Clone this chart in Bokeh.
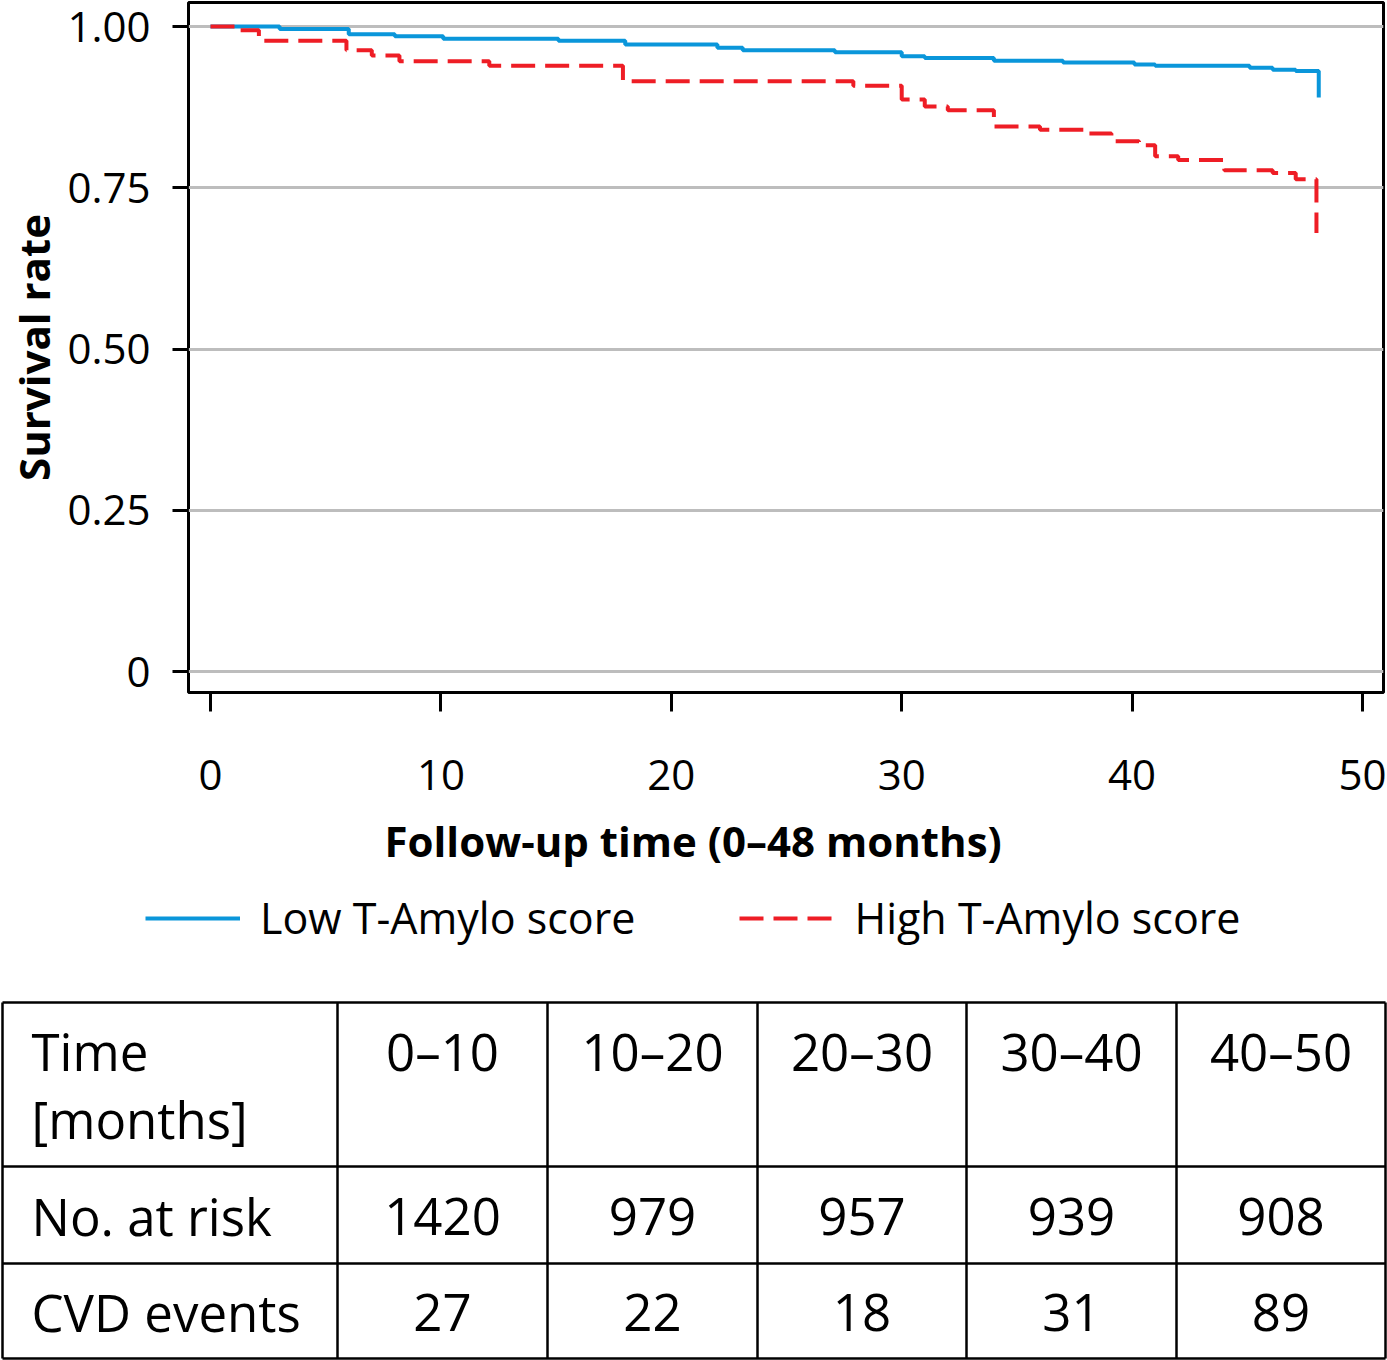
from bokeh.plotting import figure
from bokeh.models import Range1d, FixedTicker, Legend, LegendItem, Title
from bokeh.core.properties import value
from bokeh.embed import file_html
from bokeh.resources import INLINE

# ---------------- data ----------------
low_t = [0, 3.0, 6.0, 8.0, 10.1, 15.1, 18.0, 22.0, 23.1, 27.1, 30.0, 31.0, 34.0,
         37.0, 40.1, 41.0, 45.1, 46.1, 47.1, 48.1]
low_s = [1.0, 0.996, 0.988, 0.985, 0.981, 0.978, 0.972, 0.967, 0.963, 0.960, 0.954,
         0.951, 0.947, 0.944, 0.941, 0.939, 0.936, 0.933, 0.931, 0.890]

high_t = [0, 1.2, 2.1, 5.9, 7.0, 8.2, 12.1, 17.9, 27.9, 30.0, 31.0, 32.0, 34.0,
          36.0, 38.1, 39.1, 40.3, 41.0, 42.0, 44.0, 46.1, 47.1, 48.0]
high_s = [1.0, 0.994, 0.978, 0.963, 0.955, 0.946, 0.939, 0.915, 0.908, 0.887, 0.876,
          0.870, 0.845, 0.840, 0.834, 0.822, 0.816, 0.799, 0.793, 0.777, 0.773, 0.763, 0.680]

x_ticks = [0, 10, 20, 30, 40, 50]
y_ticks = [0, 0.25, 0.5, 0.75, 1.0]
y_tick_labels = ["0", "0.25", "0.50", "0.75", "1.00"]

series_names = ["Low T-Amylo score", "High T-Amylo score"]

time_labels = ["0–10", "10–20", "20–30", "30–40", "40–50"]
at_risk = [1420, 979, 957, 939, 908]
cvd_events = [27, 22, 18, 31, 89]
row_labels = ["No. at risk", "CVD events"]

FONT = "Open Sans"
BLUE = "#0a96da"
RED = "#ee1d25"
W = 1387

# ---------------- survival plot ----------------
p = figure(width=W, height=885, output_backend="svg", toolbar_location=None,
           x_range=Range1d(-0.955, 50.91), y_range=Range1d(-0.0325, 1.0372),
           min_border_left=188, min_border_right=4, min_border_top=2,
           min_border_bottom=192)
p.outline_line_color = "black"
p.outline_line_width = 3
p.background_fill_color = "white"
p.border_fill_color = "white"

p.xgrid.visible = False
p.ygrid.ticker = FixedTicker(ticks=y_ticks)
p.ygrid.grid_line_color = "#bdbdbd"
p.ygrid.grid_line_width = 3

p.xaxis.ticker = FixedTicker(ticks=x_ticks)
p.yaxis.ticker = FixedTicker(ticks=y_ticks)
p.yaxis.major_label_overrides = {t: l for t, l in zip(y_ticks, y_tick_labels)}
for ax in (p.xaxis, p.yaxis):
    ax.axis_line_color = None
    ax.major_tick_line_color = "black"
    ax.major_tick_line_width = 3
    ax.major_tick_in = 0
    ax.minor_tick_line_color = None
    ax.major_label_text_font = FONT
    ax.major_label_text_font_size = "42px"
    ax.major_label_text_color = "black"
    ax.axis_label_text_font = FONT
    ax.axis_label_text_font_size = "42px"
    ax.axis_label_text_font_style = "bold"
    ax.axis_label_text_color = "black"

p.xaxis.major_tick_out = 19
p.xaxis.major_label_standoff = 48

p.yaxis.major_tick_out = 16
p.yaxis.major_label_standoff = 22
p.yaxis.axis_label = "Survival rate"
p.yaxis.axis_label_standoff = 2

xlabel = Title(text="Follow-up time (0–48 months)", align="left", offset=196,
               standoff=34, text_font=FONT, text_font_size="42px",
               text_font_style="bold", text_color="black")
p.add_layout(xlabel, "below")

r_low = p.step(low_t, low_s, mode="after", line_color=BLUE, line_width=4)
r_high = p.step(high_t, high_s, mode="after", line_color=RED, line_width=4,
                line_dash="24 10")

# ---------------- legend + table ----------------
TH = 475
t = figure(width=W, height=TH, output_backend="svg", toolbar_location=None,
           x_range=Range1d(0, W), y_range=Range1d(TH, 0),
           x_axis_location=None, y_axis_location=None, min_border=0)
t.outline_line_color = None
t.grid.visible = False

# hidden copies of the two curves, used only as legend keys
k_low = t.step(low_t, low_s, mode="after", line_color=BLUE, line_width=4,
               visible=False)
k_high = t.step(high_t, high_s, mode="after", line_color=RED, line_width=4,
                line_dash="24 10", visible=False)
legend = Legend(items=[LegendItem(label=series_names[0], renderers=[k_low]),
                       LegendItem(label=series_names[1], renderers=[k_high])],
                orientation="horizontal", location=(145, 413),
                glyph_width=95, glyph_height=20, label_standoff=20, spacing=104,
                padding=0, margin=0, border_line_color=None,
                background_fill_alpha=0, click_policy="none",
                label_text_font=FONT, label_text_font_size="43px",
                label_text_color="black")
t.add_layout(legend)

col_edges = [2, 337, 547, 757, 966, 1176, 1385]
row_edges = [117, 281, 378, 473]

t.segment(x0=[col_edges[0]] * len(row_edges), x1=[col_edges[-1]] * len(row_edges),
          y0=row_edges, y1=row_edges, line_color="black", line_width=2.5)
t.segment(x0=col_edges, x1=col_edges, y0=[row_edges[0]] * len(col_edges),
          y1=[row_edges[-1]] * len(col_edges), line_color="black", line_width=2.5)

centers = [(col_edges[i] + col_edges[i + 1]) / 2 for i in range(1, len(col_edges) - 1)]
row_mid = [(row_edges[i] + row_edges[i + 1]) / 2 + 1 for i in range(1, 3)]
hdr_y = row_edges[0] + 48

tcommon = dict(text_font=value(FONT), text_font_size="51px", text_color="black",
               text_baseline="middle")
t.text(x=centers, y=[hdr_y] * 5, text=time_labels, text_align="center", **tcommon)
t.text(x=centers, y=[row_mid[0]] * 5, text=[str(v) for v in at_risk],
       text_align="center", **tcommon)
t.text(x=centers, y=[row_mid[1]] * 5, text=[str(v) for v in cvd_events],
       text_align="center", **tcommon)
t.text(x=[31, 31], y=[hdr_y, hdr_y + 68], text=["Time", "[months]"],
       text_align="left", **tcommon)
t.text(x=[31, 31], y=row_mid, text=row_labels, text_align="left", **tcommon)

open("out.html", "w").write(file_html([p, t], INLINE))
